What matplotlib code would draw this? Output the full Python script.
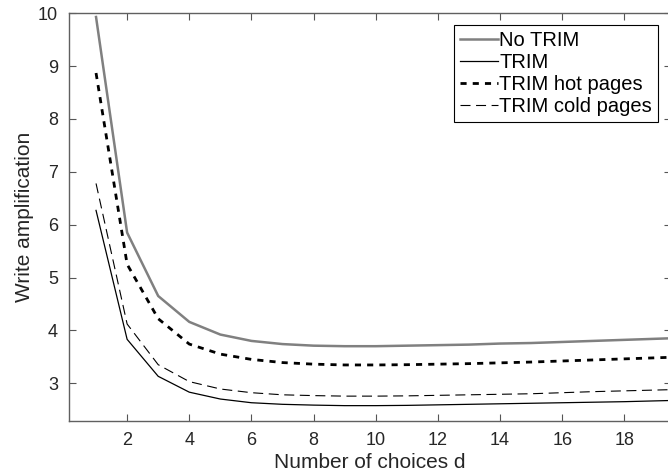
import matplotlib
matplotlib.use("Agg")
import matplotlib.pyplot as plt

plt.rcParams['font.family'] = ['Liberation Sans', 'DejaVu Sans']

# number of choices d
d = list(range(1, 21))
# write amplification
no_trim = [9.93, 5.85, 4.65, 4.16, 3.92, 3.80, 3.74, 3.71, 3.70, 3.70,
           3.71, 3.72, 3.73, 3.75, 3.76, 3.78, 3.80, 3.82, 3.84, 3.86]
trim = [6.27, 3.83, 3.13, 2.83, 2.70, 2.63, 2.60, 2.585, 2.575, 2.575,
        2.58, 2.59, 2.60, 2.61, 2.62, 2.63, 2.64, 2.65, 2.665, 2.68]
trim_hot = [8.87, 5.25, 4.22, 3.74, 3.55, 3.45, 3.39, 3.36, 3.345, 3.345,
            3.35, 3.36, 3.37, 3.385, 3.40, 3.42, 3.44, 3.46, 3.48, 3.50]
trim_cold = [6.78, 4.12, 3.35, 3.03, 2.89, 2.82, 2.78, 2.765, 2.755, 2.755,
             2.76, 2.77, 2.78, 2.79, 2.80, 2.82, 2.84, 2.855, 2.87, 2.885]

fig = plt.figure(figsize=(6.68, 4.76), dpi=100)
ax = fig.add_axes([69/668, 1-420.7/476, (671-69)/668, (420.7-13.3)/476])

ax.plot(d, no_trim, color='#808080', lw=1.8, label='No TRIM')
ax.plot(d, trim, color='black', lw=0.9, label='TRIM')
ax.plot(d, trim_hot, color='black', lw=2.0, ls=(0, (2.2, 2.2)), label='TRIM hot pages')
ax.plot(d, trim_cold, color='black', lw=0.8, ls=(0, (9, 5)), label='TRIM cold pages')

ax.set_xlim(0.13, 19.5)
ax.set_ylim(2.29, 10)
ax.set_xticks(range(2, 20, 2))
ax.set_yticks(range(3, 11))
ax.tick_params(direction='in', length=5, top=True, right=True, labelsize=13,
               color='#555555', labelcolor='#262626', pad=8)
for s in ax.spines.values():
    s.set_color('#606060')
    s.set_linewidth(1.0)

ax.set_xlabel('Number of choices d', fontsize=15, color='#262626', labelpad=3)
ax.set_ylabel('Write amplification', fontsize=15, color='#262626', labelpad=3)

leg = ax.legend(loc='upper right', bbox_to_anchor=(0.985, 0.982), fontsize=14.5,
                handlelength=1.9, handletextpad=0.05, borderpad=0.3,
                labelspacing=0.16, borderaxespad=0.2, fancybox=False, framealpha=1)
leg.get_frame().set_edgecolor('black')
leg.get_frame().set_linewidth(0.8)

fig.savefig('out.png', dpi=100)
